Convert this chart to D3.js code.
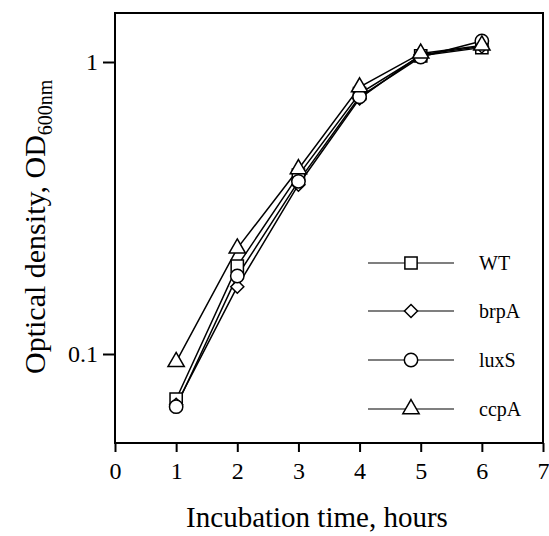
<!DOCTYPE html>
<html>
<head>
<meta charset="utf-8">
<script src="https://cdn.jsdelivr.net/npm/d3@7"></script>
<style>
  body { margin: 0; background: #fff; }
  text { font-family: "Liberation Serif", "DejaVu Serif", serif; fill: #000; }
</style>
</head>
<body>
<svg width="549" height="536"></svg>
<script>
var hours = [1, 2, 3, 4, 5, 6];
var wt   = [0.070, 0.200, 0.410, 0.780, 1.050, 1.120];
var brpA = [0.067, 0.170, 0.380, 0.750, 1.060, 1.130];
var luxS = [0.066, 0.185, 0.390, 0.760, 1.040, 1.180];
var ccpA = [0.094, 0.230, 0.430, 0.820, 1.070, 1.140];
var seriesNames = ["WT", "brpA", "luxS", "ccpA"];
var xTicks = [0, 1, 2, 3, 4, 5, 6, 7];
var yTicks = [0.1, 1];

var series = [
  {name: "WT", values: wt, shape: "square"},
  {name: "brpA", values: brpA, shape: "diamond"},
  {name: "luxS", values: luxS, shape: "circle"},
  {name: "ccpA", values: ccpA, shape: "triangle"}
];

var svg = d3.select("svg"),
    pLeft = 115, pRight = 543, pTop = 13, pBottom = 443;

var x = d3.scaleLinear().domain([0, 7]).range([pLeft, pRight]);
// log scale pinned so 1 -> 62 and 0.1 -> 354
var y = d3.scaleLog().domain([0.1, 1]).range([354, 62]);
y.domain([y.invert(pBottom), y.invert(pTop)]).range([pBottom, pTop]);

// frame
svg.append("rect")
    .attr("x", pLeft).attr("y", pTop)
    .attr("width", pRight - pLeft).attr("height", pBottom - pTop)
    .attr("fill", "none").attr("stroke", "#000").attr("stroke-width", 2);

var xAxis = svg.append("g")
    .attr("transform", "translate(0," + pBottom + ")")
    .call(d3.axisBottom(x).tickValues(xTicks).tickSize(9).tickPadding(10).tickFormat(d3.format("d")));
xAxis.select(".domain").remove();
xAxis.selectAll("line").attr("stroke-width", 2);
xAxis.selectAll("text").style("font-size", "24px").style("font-family", "Liberation Serif");

var yAxis = svg.append("g")
    .attr("transform", "translate(" + pLeft + ",0)")
    .call(d3.axisLeft(y).tickValues(yTicks).tickSize(12).tickPadding(5).tickFormat(function(d) { return d; }));
yAxis.select(".domain").remove();
yAxis.selectAll("line").attr("stroke-width", 2);
yAxis.selectAll("text").style("font-size", "24px").style("font-family", "Liberation Serif");

// square rotated 45 degrees, like the printed diamond
var squareDiamond = {
  draw: function(ctx, size) {
    var r = Math.sqrt(size) / 2 * Math.SQRT2;
    ctx.moveTo(0, -r); ctx.lineTo(r, 0); ctx.lineTo(0, r); ctx.lineTo(-r, 0); ctx.closePath();
  }
};

var symbolFor = {
  square: d3.symbol().type(d3.symbolSquare).size(150),
  diamond: d3.symbol().type(squareDiamond).size(85),
  circle: d3.symbol().type(d3.symbolCircle).size(140),
  triangle: d3.symbol().type(d3.symbolTriangle).size(115)
};

var line = d3.line()
    .x(function(d) { return x(d[0]); })
    .y(function(d) { return y(d[1]); });

series.forEach(function(s) {
  var pts = hours.map(function(h, i) { return [h, s.values[i]]; });
  svg.append("path")
      .attr("d", line(pts))
      .attr("fill", "none").attr("stroke", "#000").attr("stroke-width", 1.5);
});
series.forEach(function(s) {
  var pts = hours.map(function(h, i) { return [h, s.values[i]]; });
  svg.selectAll(null).data(pts).enter().append("path")
      .attr("d", symbolFor[s.shape])
      .attr("transform", function(d) { return "translate(" + x(d[0]) + "," + y(d[1]) + ")"; })
      .attr("fill", "#fff").attr("stroke", "#000").attr("stroke-width", 1.5);
});

// legend
var legY = [263, 311, 360, 409];
var leg = svg.selectAll(".leg").data(series).enter().append("g")
    .attr("class", "leg")
    .attr("transform", function(d, i) { return "translate(0," + legY[i] + ")"; });
leg.append("line").attr("x1", 368).attr("x2", 454)
    .attr("stroke", "#000").attr("stroke-width", 1.2);
leg.append("path")
    .attr("d", function(d) { return symbolFor[d.shape](); })
    .attr("transform", "translate(411,0)")
    .attr("fill", "#fff").attr("stroke", "#000").attr("stroke-width", 1.5);
leg.append("text")
    .attr("x", 479).attr("y", 7)
    .style("font-size", "20px")
    .text(function(d, i) { return seriesNames[i]; });

// axis titles
svg.append("text")
    .attr("x", 317).attr("y", 527)
    .attr("text-anchor", "middle")
    .style("font-size", "29px")
    .text("Incubation time, hours");

var yt = svg.append("text")
    .attr("transform", "translate(45,374) rotate(-90)")
    .attr("text-anchor", "start")
    .style("font-size", "30px");
yt.append("tspan").text("Optical density, OD");
yt.append("tspan").attr("dy", 7).style("font-size", "20px").text("600nm");
</script>
</body>
</html>
